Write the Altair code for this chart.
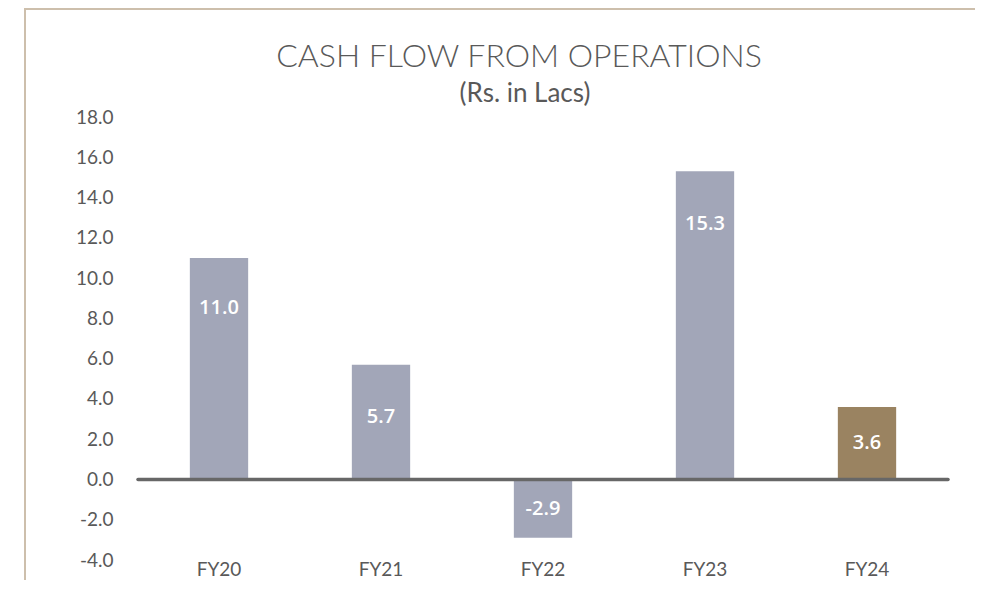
import altair as alt
import pandas as pd

years = ["FY20", "FY21", "FY22", "FY23", "FY24"]
values = [11.0, 5.7, -2.9, 15.3, 3.6]
label_pos = [8.5, 3.1, -1.45, 12.7, 1.8]
y_ticks = [-4, -2, 0, 2, 4, 6, 8, 10, 12, 14, 16, 18]
title_text = "CASH FLOW FROM OPERATIONS"
subtitle_text = "(Rs. in Lacs)"

df = pd.DataFrame({
    "year": years,
    "value": values,
    "label_pos": label_pos,
    "label": [f"{v:.1f}" for v in values],
})

FONT = "Lato"
TXT = "#595959"

x_enc = alt.X(
    "year:N",
    sort=years,
    scale=alt.Scale(paddingInner=0.64, paddingOuter=0.32),
    axis=alt.Axis(
        title=None, domain=False, ticks=False, labelAngle=0,
        labelFont=FONT, labelFontSize=19, labelColor=TXT, labelPadding=0,
    ),
)
y_scale = alt.Scale(domain=[-4, 18], nice=False, zero=False)

bars = alt.Chart(df).mark_bar().encode(
    x=x_enc,
    y=alt.Y(
        "value:Q",
        scale=y_scale,
        axis=alt.Axis(
            title=None, values=y_ticks, domain=False, ticks=False, grid=False,
            labelExpr="replace(format(datum.value, '.1f'), '\u2212', '-')",
            labelFont=FONT, labelFontSize=19, labelColor=TXT, labelPadding=25,
        ),
    ),
    color=alt.condition(alt.datum.year == "FY24", alt.value("#9a8361"), alt.value("#a2a6b8")),
)

labels = alt.Chart(df).mark_text(
    color="white", font="Open Sans", fontSize=20, fontWeight=600, baseline="middle"
).encode(
    x=alt.X("year:N", sort=years),
    y=alt.Y("label_pos:Q", scale=y_scale),
    text="label:N",
)

zero = alt.Chart(pd.DataFrame({"z": [0]})).mark_rule(
    color="#676767", strokeWidth=3.5, strokeCap="round"
).encode(y=alt.Y("z:Q", scale=y_scale))

border_top = alt.Chart(pd.DataFrame({"a": [0]})).mark_rule(
    color="#cdbfac", strokeWidth=2
).encode(x=alt.value(-113), x2=alt.value(840), y=alt.value(-108))

border_left = alt.Chart(pd.DataFrame({"a": [0]})).mark_rule(
    color="#cdbfac", strokeWidth=2
).encode(x=alt.value(-113), y=alt.value(-109), y2=alt.value(470))

title = alt.Chart(pd.DataFrame({"t": [title_text]})).mark_text(
    font=FONT, fontSize=32, fontWeight=300, color=TXT, baseline="middle", align="center"
).encode(text="t:N", x=alt.value(381), y=alt.value(-60))

subtitle = alt.Chart(pd.DataFrame({"t": [subtitle_text]})).mark_text(
    font=FONT, fontSize=26, color=TXT, baseline="middle", align="center"
).encode(text="t:N", x=alt.value(387), y=alt.value(-23))

chart = alt.layer(border_top, border_left, title, subtitle, bars, zero, labels).properties(
    width=810,
    height=443,
    autosize=alt.AutoSizeParams(type="none"),
    padding={"left": 130, "top": 109, "right": 27, "bottom": 20},
).configure_view(stroke=None)

chart.save("out.html", embed_options={"renderer": "svg", "actions": False})
